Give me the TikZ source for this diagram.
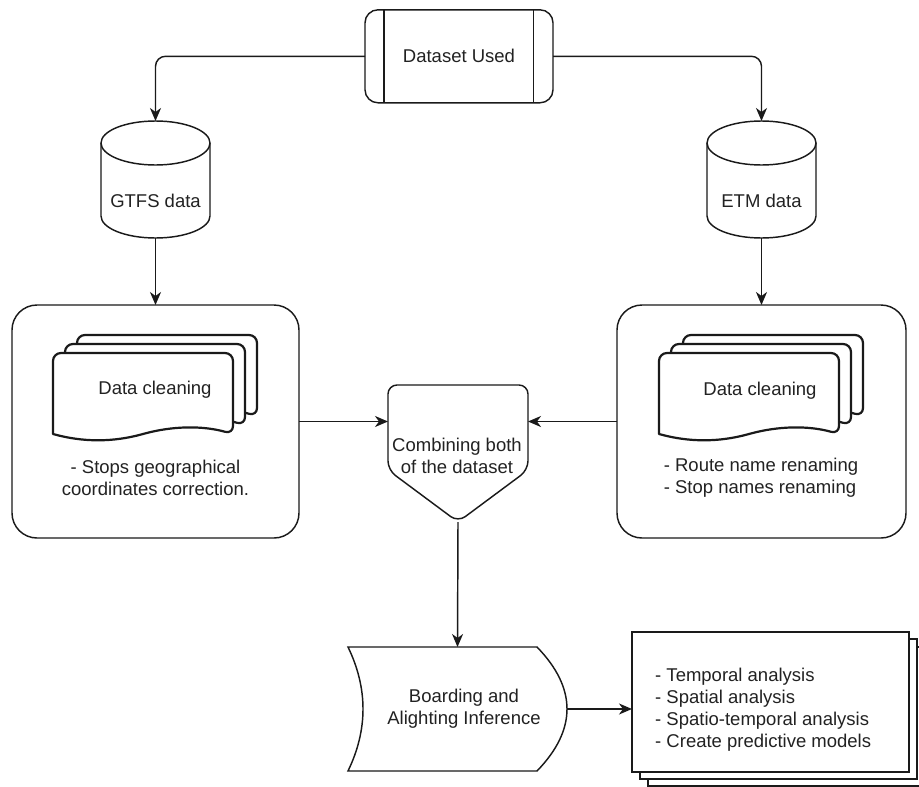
\documentclass[tikz,border=0pt]{standalone}
\usepackage{fontspec}
\setmainfont{Liberation Sans}
\usetikzlibrary{arrows.meta,calc}

\definecolor{ink}{HTML}{1A1A1A}
\definecolor{txt}{HTML}{222222}

\tikzset{
  line/.style={draw=ink, line width=1.45pt},
  arr/.style={line, -{Stealth[length=13pt,width=11pt,inset=4pt]}},
  lbl/.style={font=\fontsize{18.5}{22}\selectfont, text=txt, align=center, inner sep=0pt},
  frame/.style={inner sep=0pt, outer sep=0pt},
  docline/.style={draw=ink, line width=2.2pt, fill=white, line join=round},
  sheet/.style={draw=ink, line width=1.5pt, fill=white},
}

% one sheet of a stacked document, top-left corner at the given offset
\newcommand{\paperSheet}[1]{%
  \draw[docline, shift={#1}, rounded corners=8pt]
    (0,81) -- (0,0) -- (180,0) -- (180,81) [sharp corners]
    .. controls (150,72.6) and (120,72.6) .. (90,81)
    .. controls (60,89.4) and (30,89.4) .. (0,81) -- cycle;}

% three stacked sheets
\newcommand{\paperStack}[1]{%
  \begin{scope}[shift={#1}]
    \paperSheet{(24,-18)}
    \paperSheet{(12,-9)}
    \paperSheet{(0,0)}
  \end{scope}}

\begin{document}
\begin{tikzpicture}[x=1pt, y=-1pt]
  \useasboundingbox (0,0) rectangle (919,787);
  \clip (0,0) rectangle (919,787);
  \fill[white] (0,0) rectangle (919,787);

  % source dataset (process box with side bars)
  \node[line, rounded corners=13pt, frame, minimum width=188pt, minimum height=93pt,
        lbl] (ds) at (459,56.3) {Dataset Used};
  \draw[line] ([xshift=19pt]ds.north west) -- ([xshift=19pt]ds.south west);
  \draw[line] ([xshift=-19.5pt]ds.north east) -- ([xshift=-19.5pt]ds.south east);

  % databases
  \node[frame, minimum width=109pt, minimum height=117pt] (gtfs) at (155.5,179.5) {};
  \draw[line] (101,143) -- (101,216) arc[start angle=180, end angle=0, x radius=54.5, y radius=22] -- (210,143);
  \draw[line] (155.5,143) ellipse[x radius=54.5, y radius=22];
  \node[lbl] (gtfslbl) at (155.5,201) {GTFS data};

  \node[frame, minimum width=109pt, minimum height=117pt] (etm) at (761.5,179.5) {};
  \draw[line] (707,143) -- (707,216) arc[start angle=180, end angle=0, x radius=54.5, y radius=22] -- (816,143);
  \draw[line] (761.5,143) ellipse[x radius=54.5, y radius=22];
  \node[lbl] (etmlbl) at (761.5,201) {ETM data};

  \draw[arr, rounded corners=10pt] (ds.west) -| (gtfs.north);
  \draw[arr, rounded corners=10pt] (ds.east) -| (etm.north);

  % cleaning containers
  \node[line, rounded corners=25pt, frame, minimum width=287pt, minimum height=233pt] (lbox) at (155.5,421.5) {};
  \node[line, rounded corners=25pt, frame, minimum width=289pt, minimum height=233pt] (rbox) at (761.5,421.5) {};

  \paperStack{(53,353)}
  \paperStack{(659,353)}
  \node[lbl] (lclean) at (155,390) {Data cleaning};
  \node[lbl] (rclean) at (760,391) {Data cleaning};

  \node[lbl] (ldesc) at (155.5,477.7) {- Stops geographical\\coordinates correction.};
  \node[lbl, align=left] (rdesc) at (761,477.5) {- Route name renaming\\- Stop names renaming};

  \draw[arr] (gtfs.south) -- (lbox.north);
  \draw[arr] (etm.south) -- (rbox.north);

  % merge step (off-page connector)
  \node[frame, minimum width=140pt, minimum height=137pt] (comb) at (458,453.5) {};
  \draw[line, rounded corners=9pt] (388,470) -- (388,385) -- (528,385) -- (528,470) -- (458,522) -- cycle;
  \node[lbl] (comblbl) at (457,456) {Combining both\\of the dataset};
  \coordinate (combL) at (388,421.5);
  \coordinate (combR) at (528,421.5);
  \draw[arr] (lbox.east) -- (combL);
  \draw[arr] (rbox.west) -- (combR);

  % inference step (stored data)
  \node[frame, minimum width=219pt, minimum height=124pt] (board) at (457.5,709) {};
  \draw[line] (348,647) -- (537,647)
    .. controls (577,688.3) and (577,729.7) .. (537,771) -- (348,771)
    .. controls (368,729.7) and (368,688.3) .. (348,647) -- cycle;
  \node[lbl] (boardlbl) at (464,709) {Boarding and\\Alighting Inference};
  \draw[arr] (comb.south) -- (board.north);

  % analyses (stacked sheets)
  \draw[sheet] (648,647) rectangle (926,786);
  \draw[sheet] (640,639) rectangle (917,779);
  \node[sheet, frame, minimum width=277pt, minimum height=140pt] (outbox) at (770.5,702) {};
  \node[lbl, align=left, anchor=west] (outlbl) at (655,709.5)
    {- Temporal analysis\\- Spatial analysis\\- Spatio-temporal analysis\\- Create predictive models};
  \draw[arr] (board.east) -- (board.east -| outbox.west);
\end{tikzpicture}
\end{document}
